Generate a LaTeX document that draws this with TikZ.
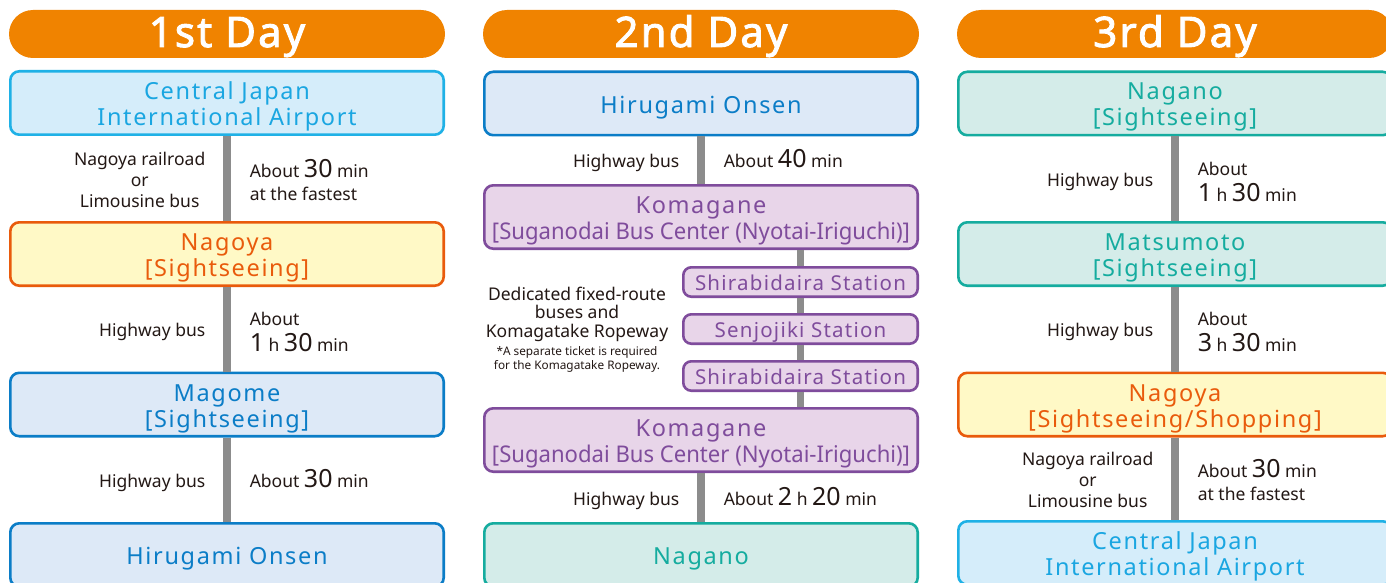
\documentclass[tikz,border=0pt]{standalone}
\usepackage{fontspec}
\usepackage{graphicx}
\setmainfont{Noto Sans}
\newfontfamily\boxfont[LetterSpace=7]{Noto Sans}
\newfontfamily\stfont[LetterSpace=6]{Noto Sans}
\newfontfamily\lblfont{Noto Sans}
\newfontfamily\hdfont[LetterSpace=5,FakeBold=2.2]{Noto Sans}
\definecolor{hdrorange}{HTML}{F08300}
\definecolor{cyanB}{HTML}{1FB1E6}\definecolor{cyanF}{HTML}{D5EDFA}\definecolor{cyanT}{HTML}{1AA6E1}
\definecolor{orgB}{HTML}{E95B0C}\definecolor{orgF}{HTML}{FFF9C6}\definecolor{orgT}{HTML}{E95B0C}
\definecolor{bluB}{HTML}{0B7DC7}\definecolor{bluF}{HTML}{DDE9F7}\definecolor{bluT}{HTML}{0B7DC7}
\definecolor{purB}{HTML}{7F4C9C}\definecolor{purF}{HTML}{E8D5E9}\definecolor{purT}{HTML}{7F4C9C}
\definecolor{teaB}{HTML}{15AC9F}\definecolor{teaF}{HTML}{D4ECE9}\definecolor{teaT}{HTML}{15AC9F}
\definecolor{connG}{HTML}{8C8C8C}
\definecolor{lblC}{HTML}{231815}
\newcommand{\bigdig}[1]{{\fontsize{25}{25}\selectfont #1}}
\newcommand{\kbus}{\resizebox{418pt}{\height}{\lblfont\fontsize{23}{26}\selectfont{[}Suganodai Bus Center (Nyotai-Iriguchi){]}}}
\begin{document}
\begin{tikzpicture}[x=1pt,y=-1pt,
  hdr/.style={fill=hdrorange, rounded corners=24pt, minimum width=436pt, minimum height=48pt,
    inner sep=0pt, text=white, font=\hdfont\fontsize{42}{42}\selectfont,
    text height=26pt, text depth=0pt},
  stop/.style={draw, line width=2.6pt, rounded corners=9pt, minimum width=433.4pt,
    minimum height=63.4pt, inner sep=0pt, align=center,
    font=\boxfont\fontsize{23.5}{26}\selectfont},
  one/.style={text height=19.5pt, text depth=0pt},
  two/.style={text height=45pt, text depth=0pt},
  airport/.style={stop, draw=cyanB, fill=cyanF, text=cyanT},
  orgbox/.style={stop, draw=orgB, fill=orgF, text=orgT},
  blubox/.style={stop, draw=bluB, fill=bluF, text=bluT},
  purbox/.style={stop, draw=purB, fill=purF, text=purT},
  teabox/.style={stop, draw=teaB, fill=teaF, text=teaT},
  station/.style={draw=purB, fill=purF, text=purT, line width=2.6pt, rounded corners=8pt,
    minimum width=234.4pt, minimum height=29.4pt, inner sep=0pt,
    font=\stfont\fontsize{20.5}{21}\selectfont, text height=16pt, text depth=0pt},
  conn/.style={draw=connG, line width=7.5pt},
  lblL/.style={midway, left=18pt, align=center, inner sep=0pt, text=lblC,
    font=\lblfont\fontsize{17.5}{21}\selectfont, text depth=0pt},
  lblR/.style={midway, right=19pt, align=left, inner sep=0pt, text=lblC,
    font=\lblfont\fontsize{17.5}{26}\selectfont, text depth=0pt},
  lblRf/.style={midway, right=19pt, align=left, inner sep=0pt, text=lblC,
    font=\lblfont\fontsize{17.5}{23.5}\selectfont, text depth=0pt},
  h1/.style={text height=15pt},
  h2/.style={text height=45pt},
  h2f/.style={text height=44pt},
  h3/.style={text height=57pt}
]
\useasboundingbox (0,0) rectangle (1386,583);
\clip (0,0) rectangle (1386,583);
\fill[white] (0,0) rectangle (1386,583);

% headers
\node[hdr] (D1) at (227,34) {1st Day};
\node[hdr] (D2) at (701,34) {2nd Day};
\node[hdr] (D3) at (1175,34) {3rd Day};

% day 1
\node[airport,two] (A1) at (227,103) {Central Japan\\International Airport};
\node[orgbox,two] (N1) at (227,254) {Nagoya\\{[}Sightseeing{]}};
\node[blubox,two] (M1) at (227,404.5) {Magome\\{[}Sightseeing{]}};
\node[blubox,one] (H1) at (227,555) {Hirugami Onsen};

\draw[conn] (A1) -- node[lblL,h3]{Nagoya railroad\\or\\Limousine bus}
  node[lblRf,h2f]{About \bigdig{30} min\\at the fastest} (N1);
\draw[conn] (N1) -- node[lblL,h1]{Highway bus}
  node[lblR,h2]{About\\\bigdig{1} h \bigdig{30} min} (M1);
\draw[conn] (M1) -- node[lblL,h1]{Highway bus}
  node[lblR,h1]{About \bigdig{30} min} (H1);

% day 2
\node[blubox,one] (H2) at (701,103.5) {Hirugami Onsen};
\node[purbox,text height=44.6pt,text depth=0pt] (K1) at (701,217) {Komagane\\\kbus};
\node[station] (S1) at (800.5,282) {Shirabidaira Station};
\node[station] (S2) at (800.5,329) {Senjojiki Station};
\node[station] (S3) at (800.5,376) {Shirabidaira Station};
\node[purbox,text height=44.6pt,text depth=0pt] (K2) at (701,440) {Komagane\\\kbus};
\node[teabox,one] (G2) at (701,555) {Nagano};

\draw[conn] (H2) -- node[lblL,h1]{Highway bus}
  node[lblR,h1]{About \bigdig{40} min} (K1);
\draw[conn] (S1.north |- K1.south) -- (S1.north);
\draw[conn] (S1) -- (S2);
\draw[conn] (S2) -- (S3);
\draw[conn] (S3.south) -- (S3.south |- K2.north);
\draw[conn] (K2) -- node[lblL,h1]{Highway bus}
  node[lblR,h1]{About \bigdig{2} h \bigdig{20} min} (G2);

\node[anchor=south, align=center, inner sep=0pt, text=lblC, text depth=0pt,
  font=\lblfont\fontsize{17.5}{18.5}\selectfont] (ded) at (577,337.3)
  {Dedicated fixed-route\\buses and\\Komagatake Ropeway};
\node[anchor=south, align=center, inner sep=0pt, text=lblC, text depth=0pt,
  font=\lblfont\fontsize{11.8}{13.5}\selectfont] (note) at (577,369.3)
  {*A separate ticket is required\\for the Komagatake Ropeway.};

% day 3
\node[teabox,two] (G3) at (1175,103.5) {Nagano\\{[}Sightseeing{]}};
\node[teabox,two] (T3) at (1175,254) {Matsumoto\\{[}Sightseeing{]}};
\node[orgbox,two] (N3) at (1175,404.5) {Nagoya\\{[}Sightseeing/Shopping{]}};
\node[airport,two] (A3) at (1175,553) {Central Japan\\International Airport};

\draw[conn] (G3) -- node[lblL,h1]{Highway bus}
  node[lblR,h2]{About\\\bigdig{1} h \bigdig{30} min} (T3);
\draw[conn] (T3) -- node[lblL,h1]{Highway bus}
  node[lblR,h2]{About\\\bigdig{3} h \bigdig{30} min} (N3);
\draw[conn] (N3) -- node[lblL,h3]{Nagoya railroad\\or\\Limousine bus}
  node[lblRf,h2f]{About \bigdig{30} min\\at the fastest} (A3);
\end{tikzpicture}
\end{document}
